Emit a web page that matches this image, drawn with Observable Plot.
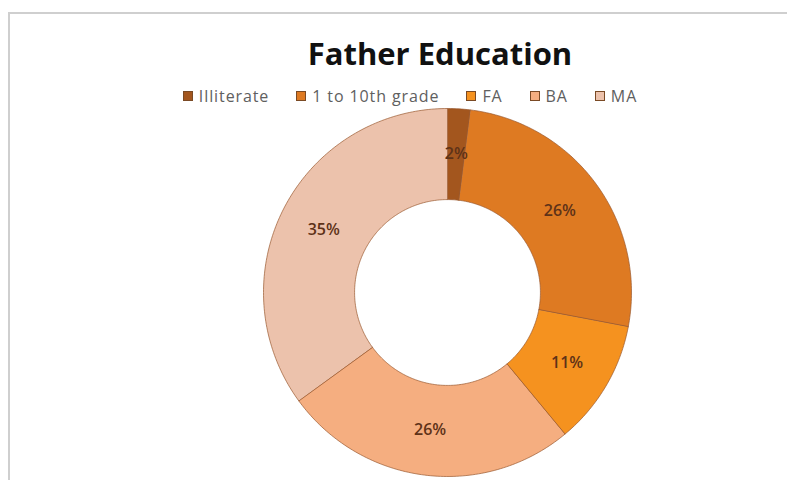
<!DOCTYPE html>
<html>
<head>
<meta charset="utf-8">
<script src="https://cdn.jsdelivr.net/npm/d3@7"></script>
<script src="https://cdn.jsdelivr.net/npm/@observablehq/plot@0.6"></script>
<style>
  html, body { margin: 0; padding: 0; background: #fff; }
  body { width: 787px; height: 480px; overflow: hidden; position: relative; font-family: "Open Sans", Lato, sans-serif; }
  #frame { position: absolute; left: 8px; top: 12px; width: 800px; height: 500px; border: 2px solid #cfcfcf; box-sizing: border-box; }
  #header { position: absolute; left: 0; top: 0; width: 787px; height: 108px; }
  #title { position: absolute; top: 32px; left: 0; width: 880px; text-align: center; font-weight: bold; font-size: 31px; color: #111; }
  #legend { position: absolute; top: 85px; left: 0; width: 820px; display: flex; justify-content: center; gap: 27px; font-size: 16px; letter-spacing: 0.9px; color: #606060; }
  #legend span.item { display: inline-flex; align-items: center; }
  #legend span.sw { width: 8px; height: 8px; margin-right: 6px; border: 1px solid #7a4a25; display: inline-block; }
  #chart { position: absolute; left: 0; top: 108px; }
</style>
</head>
<body>
<div id="frame"></div>
<div id="header">
  <div id="title">Father Education</div>
  <div id="legend"></div>
</div>
<div id="chart"></div>
<script>
const categories = ["Illiterate", "1 to 10th grade", "FA", "BA", "MA"];
const percents = [2, 26, 11, 26, 35];
const labels = ["2%", "26%", "11%", "26%", "35%"];
const colors = ["#a3561e", "#de7a22", "#f5921f", "#f5ae80", "#ecc2ac"];

const data = categories.map((c, i) => ({cat: c, value: percents[i], label: labels[i]}));
const arcs = d3.pie().sort(null).value(d => d.value)(data);

const rOuter = 1, rInner = 0.505;
const pts = [];
for (const a of arcs) {
  const n = Math.max(2, Math.ceil((a.endAngle - a.startAngle) / (Math.PI / 180)));
  for (let k = 0; k <= n; k++) {
    const t = a.startAngle + (a.endAngle - a.startAngle) * k / n;
    pts.push({cat: a.data.cat, x: rOuter * Math.sin(t), y: rOuter * Math.cos(t)});
  }
  for (let k = n; k >= 0; k--) {
    const t = a.startAngle + (a.endAngle - a.startAngle) * k / n;
    pts.push({cat: a.data.cat, x: rInner * Math.sin(t), y: rInner * Math.cos(t)});
  }
}
const labelPts = arcs.map(a => {
  const m = (a.startAngle + a.endAngle) / 2, r = 0.755;
  return {label: a.data.label, x: r * Math.sin(m), y: r * Math.cos(m)};
});

// legend
const leg = document.getElementById("legend");
categories.forEach((c, i) => {
  const it = document.createElement("span");
  it.className = "item";
  const sw = document.createElement("span");
  sw.className = "sw";
  sw.style.background = colors[i];
  it.appendChild(sw);
  it.appendChild(document.createTextNode(c));
  leg.appendChild(it);
});

const cx = 447, cy = 184, R = 184;
const chart = Plot.plot({
  width: 787,
  height: 372,
  margin: 0,
  x: {domain: [-1, 1], range: [cx - R, cx + R], axis: null},
  y: {domain: [-1, 1], range: [cy + R, cy - R], axis: null},
  color: {domain: categories, range: colors},
  style: {background: "transparent"},
  marks: [
    Plot.line(pts, {x: "x", y: "y", z: "cat", fill: "cat", stroke: "#9a5a30", strokeWidth: 1, strokeOpacity: 0.7, curve: "linear-closed"}),
    Plot.text(labelPts, {x: "x", y: "y", text: "label", fill: "#5e3218", fontSize: 16, fontWeight: 600, fontFamily: "Open Sans, sans-serif"})
  ]
});
document.getElementById("chart").appendChild(chart);
</script>
</body>
</html>
